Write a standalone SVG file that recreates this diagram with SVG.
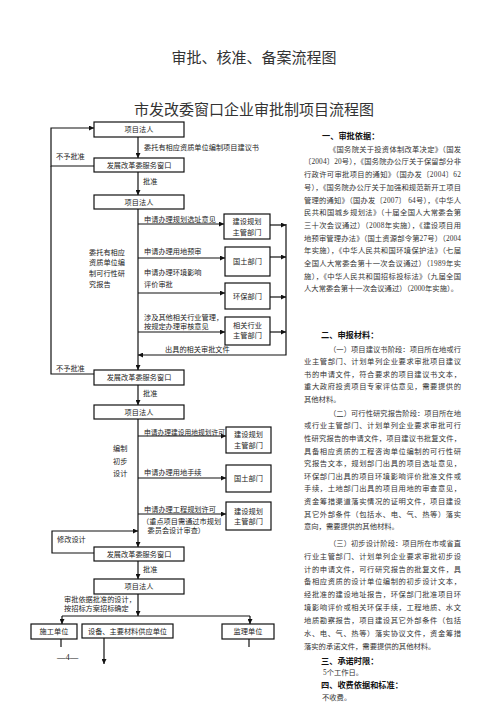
<svg xmlns="http://www.w3.org/2000/svg" width="496" height="702" viewBox="0 0 496 702">
<defs>
<marker id="ah" viewBox="0 0 10 10" refX="10" refY="5" markerWidth="6" markerHeight="5" orient="auto" markerUnits="userSpaceOnUse"><path d="M0,0 L10,5 L0,10 z" fill="#111"/></marker>
</defs>
<style>
.t{font-family:"Liberation Serif","Noto Sans CJK SC",serif;font-size:7.2px;fill:#222}
.c{text-anchor:middle}
.box{fill:#fff;stroke:#111;stroke-width:1.2}
.ln{fill:none;stroke:#111;stroke-width:1.2}
.ttl{font-family:"Liberation Serif","Noto Sans CJK SC",serif;font-size:15px;fill:#333;text-anchor:middle}
.b{font-family:"Liberation Serif","Noto Sans CJK SC",serif;font-size:7.3px;fill:#333}
.h{font-family:"Liberation Sans","Noto Sans CJK SC",sans-serif;font-size:8.2px;font-weight:bold;fill:#111}
</style>
<rect width="496" height="702" fill="#fff"/>
<text class="ttl" x="254" y="62.5">审批、核准、备案流程图</text>
<text class="ttl" x="254" y="114.5">市发改委窗口企业审批制项目流程图</text>

<g id="connectors">
<path class="ln" d="M138,137 V158" marker-end="url(#ah)"/>
<path class="ln" d="M94,166 H51 V128 H94" marker-end="url(#ah)"/>
<path class="ln" d="M94,374 H51 V166"/>
<path class="ln" d="M138,172 V195" marker-end="url(#ah)"/>
<path class="ln" d="M138,209 V370" marker-end="url(#ah)"/>
<path class="ln" d="M138,224 H224" marker-end="url(#ah)"/>
<path class="ln" d="M138,258 H225" marker-end="url(#ah)"/>
<path class="ln" d="M138,293 H225" marker-end="url(#ah)"/>
<path class="ln" d="M138,332 H225" marker-end="url(#ah)"/>
<path class="ln" d="M270,225 H286" marker-end="url(#ah)"/>
<path class="ln" d="M270,257 H286" marker-end="url(#ah)"/>
<path class="ln" d="M270,297 H286" marker-end="url(#ah)"/>
<path class="ln" d="M270,332 H286" marker-end="url(#ah)"/>
<path class="ln" d="M286,224 V355 H138" marker-end="url(#ah)"/>
<path class="ln" d="M138,385 V405" marker-end="url(#ah)"/>
<path class="ln" d="M138,419 V547" marker-end="url(#ah)"/>
<path class="ln" d="M138,436 H226" marker-end="url(#ah)"/>
<path class="ln" d="M138,478 H226" marker-end="url(#ah)"/>
<path class="ln" d="M138,514 H226" marker-end="url(#ah)"/>
<path class="ln" d="M94,553 H52 V531 H138" marker-end="url(#ah)"/>
<path class="ln" d="M138,561 V579" marker-end="url(#ah)"/>
<path class="ln" d="M138,594 V616" marker-end="url(#ah)"/>
<path class="ln" d="M62,616 H250"/>
<path class="ln" d="M62,616 V624" marker-end="url(#ah)"/>
<path class="ln" d="M250,616 V624" marker-end="url(#ah)"/>
<path class="ln" d="M61,639 V647"/>
<path class="ln" d="M249,639 V647"/>
<path class="ln" d="M104,638 V664" marker-end="url(#ah)"/>
</g>

<g id="labels">
<text class="t" x="144" y="149.7">委托有相应资质单位编制项目建议书</text>
<text class="t" x="56" y="159.4">不予批准</text>
<text class="t" x="143" y="184.4">批准</text>
<text class="t" x="144" y="221.7">申请办理规划选址意见</text>
<text class="t" x="144" y="253.7">申请办理用地预审</text>
<text class="t" x="144" y="275">申请办理环境影响</text>
<text class="t" x="144" y="287">评价审批</text>
<text class="t" x="144" y="320.4">涉及其他相关行业管理，</text>
<text class="t" x="144" y="329.4">按规定办理审核意见</text>
<text class="t" x="89" y="254.7">委托有相应</text>
<text class="t" x="89" y="265">资质单位编</text>
<text class="t" x="89" y="275.7">制可行性研</text>
<text class="t" x="89" y="287">究报告</text>
<text class="t" x="165" y="352.3">出具的相关审批文件</text>
<text class="t" x="56" y="370.7">不予批准</text>
<text class="t" x="143" y="395.7">批准</text>
<text class="t" x="144" y="434.7" textLength="81" lengthAdjust="spacingAndGlyphs">申请办理建设用地规划许可</text>
<text class="t" x="113" y="450.7">编制</text>
<text class="t" x="113" y="463.7">初步</text>
<text class="t" x="113" y="475.7">设计</text>
<text class="t" x="144" y="475.4">申请办理用地手续</text>
<text class="t" x="144" y="512">申请办理工程规划许可</text>
<text class="t" x="142" y="523.7">（重点项目需通过市规划</text>
<text class="t" x="147.5" y="532.7">委员会设计审查）</text>
<text class="t" x="57" y="542">修改设计</text>
<text class="t" x="143" y="571.7">批准</text>
<text class="t" x="64" y="601.7">审批依据批准的设计，</text>
<text class="t" x="64" y="610.7">按招标方案招标确定</text>
<text class="t" x="57" y="660" style="font-size:8.5px">—4—</text>
</g>

<g id="n1"><rect class="box" x="94" y="122" width="90" height="15"/><text class="t c" x="139" y="132.2">项目法人</text></g>
<g id="n2"><rect class="box" x="94" y="158" width="90" height="14"/><text class="t c" x="139" y="167.6">发展改革委服务窗口</text></g>
<g id="n3"><rect class="box" x="94" y="195" width="90" height="14"/><text class="t c" x="139" y="204.6">项目法人</text></g>
<g id="a1"><rect class="box" x="224" y="214" width="46" height="25"/><text class="t c" x="247" y="223.6">建设规划</text><text class="t c" x="247" y="235">主管部门</text></g>
<g id="a2"><rect class="box" x="225" y="247" width="45" height="29"/><text class="t c" x="247.5" y="264.2">国土部门</text></g>
<g id="a3"><rect class="box" x="225" y="283" width="45" height="26"/><text class="t c" x="247.5" y="298.7">环保部门</text></g>
<g id="a4"><rect class="box" x="225" y="317" width="45" height="28"/><text class="t c" x="247.5" y="327.7">相关行业</text><text class="t c" x="247.5" y="338.4">主管部门</text></g>
<g id="n4"><rect class="box" x="94" y="370" width="90" height="15"/><text class="t c" x="139" y="380.2">发展改革委服务窗口</text></g>
<g id="n5"><rect class="box" x="94" y="405" width="90" height="14"/><text class="t c" x="139" y="414.7">项目法人</text></g>
<g id="b1"><rect class="box" x="226" y="427" width="45" height="26"/><text class="t c" x="248.5" y="437">建设规划</text><text class="t c" x="248.5" y="448.4">主管部门</text></g>
<g id="b2"><rect class="box" x="226" y="465" width="45" height="27"/><text class="t c" x="248.5" y="481.2">国土部门</text></g>
<g id="b3"><rect class="box" x="226" y="502" width="45" height="28"/><text class="t c" x="248.5" y="513.7">建设规划</text><text class="t c" x="248.5" y="523.7">主管部门</text></g>
<g id="n6"><rect class="box" x="94" y="547" width="90" height="14"/><text class="t c" x="139" y="556.7">发展改革委服务窗口</text></g>
<g id="n7"><rect class="box" x="94" y="579" width="90" height="15"/><text class="t c" x="139" y="589.2">项目法人</text></g>
<g id="c1"><rect class="box" x="31" y="624" width="46" height="15"/><text class="t c" x="54" y="634.2">施工单位</text></g>
<g id="c2"><rect class="box" x="82" y="624" width="91" height="14"/><text class="t c" x="127.5" y="633.7">设备、主要材料供应单位</text></g>
<g id="c3"><rect class="box" x="222" y="624" width="52" height="15"/><text class="t c" x="248" y="634.2">监理单位</text></g>

<g id="notes">
<text class="h" x="322" y="139">一、审批依据：</text>
<text class="b" x="329" y="151.7" textLength="132" lengthAdjust="spacing">《国务院关于投资体制改革决定》（国发</text>
<text class="b" x="304" y="164.4" textLength="157" lengthAdjust="spacing">〔2004〕20号），《国务院办公厅关于保留部分非</text>
<text class="b" x="304" y="177.1" textLength="157" lengthAdjust="spacing">行政许可审批项目的通知》（国办发〔2004〕62</text>
<text class="b" x="304" y="189.8" textLength="157" lengthAdjust="spacing">号），《国务院办公厅关于加强和规范新开工项目</text>
<text class="b" x="304" y="202.5" textLength="157" lengthAdjust="spacing">管理的通知》（国办发〔2007〕 64号），《中华人</text>
<text class="b" x="304" y="215.2" textLength="157" lengthAdjust="spacing">民共和国城乡规划法》（十届全国人大常委会第</text>
<text class="b" x="304" y="227.9" textLength="157" lengthAdjust="spacing">三十次会议通过）（2008年实施），《建设项目用</text>
<text class="b" x="304" y="240.6" textLength="157" lengthAdjust="spacing">地预审管理办法》（国土资源部令第27号）（2004</text>
<text class="b" x="304" y="253.3" textLength="157" lengthAdjust="spacing">年实施），《中华人民共和国环境保护法》（七届</text>
<text class="b" x="304" y="266" textLength="157" lengthAdjust="spacing">全国人大常委会第十一次会议通过）（1989年实</text>
<text class="b" x="304" y="278.7" textLength="157" lengthAdjust="spacing">施），《中华人民共和国招标投标法》（九届全国</text>
<text class="b" x="304" y="291.4" textLength="154" lengthAdjust="spacing">人大常委会第十一次会议通过）（2000年实施）。</text>

<text class="h" x="321" y="338">二、申报材料：</text>
<text class="b" x="329" y="351.7" textLength="132" lengthAdjust="spacing">（一）项目建议书阶段：项目所在地或行</text>
<text class="b" x="304" y="364.2" textLength="157" lengthAdjust="spacing">业主管部门、计划单列企业要求审批项目建议</text>
<text class="b" x="304" y="376.7" textLength="157" lengthAdjust="spacing">书的申请文件，符合要求的项目建议书文本，</text>
<text class="b" x="304" y="389.2" textLength="157" lengthAdjust="spacing">重大政府投资项目专家评估意见，需要提供的</text>
<text class="b" x="304" y="401.7">其他材料。</text>
<text class="b" x="329" y="415.7" textLength="132" lengthAdjust="spacing">（二）可行性研究报告阶段：项目所在地</text>
<text class="b" x="304" y="428.3" textLength="157" lengthAdjust="spacing">或行业主管部门、计划单列企业要求审批可行</text>
<text class="b" x="304" y="440.9" textLength="157" lengthAdjust="spacing">性研究报告的申请文件，项目建议书批复文件，</text>
<text class="b" x="304" y="453.5" textLength="157" lengthAdjust="spacing">具备相应资质的工程咨询单位编制的可行性研</text>
<text class="b" x="304" y="466.1" textLength="157" lengthAdjust="spacing">究报告文本，规划部门出具的项目选址意见，</text>
<text class="b" x="304" y="478.7" textLength="157" lengthAdjust="spacing">环保部门出具的项目环境影响评价批准文件或</text>
<text class="b" x="304" y="491.3" textLength="157" lengthAdjust="spacing">手续，土地部门出具的项目用地的审查意见，</text>
<text class="b" x="304" y="503.9" textLength="157" lengthAdjust="spacing">资金筹措渠道落实情况的证明文件，项目建设</text>
<text class="b" x="304" y="516.5" textLength="157" lengthAdjust="spacing">其它外部条件（包括水、电、气、热等）落实</text>
<text class="b" x="304" y="529.1">意向，需要提供的其他材料。</text>
<text class="b" x="329" y="545.7" textLength="132" lengthAdjust="spacing">（三）初步设计阶段：项目所在市或省直</text>
<text class="b" x="304" y="558.6" textLength="157" lengthAdjust="spacing">行业主管部门、计划单列企业要求审批初步设</text>
<text class="b" x="304" y="571.5" textLength="157" lengthAdjust="spacing">计的申请文件，可行研究报告的批复文件，具</text>
<text class="b" x="304" y="584.4" textLength="157" lengthAdjust="spacing">备相应资质的设计单位编制的初步设计文本，</text>
<text class="b" x="304" y="597.3" textLength="157" lengthAdjust="spacing">经批准的建设地址报告，环保部门批准项目环</text>
<text class="b" x="304" y="610.2" textLength="157" lengthAdjust="spacing">境影响评价或相关环保手续，工程地质、水文</text>
<text class="b" x="304" y="623.1" textLength="157" lengthAdjust="spacing">地质勘察报告，项目建设其它外部条件（包括</text>
<text class="b" x="304" y="636" textLength="157" lengthAdjust="spacing">水、电、气、热等）落实协议文件，资金筹措</text>
<text class="b" x="304" y="648.9">落实的承诺文件，需要提供的其他材料。</text>
<text class="h" x="321" y="663.5">三、承诺时限：</text>
<text class="b" x="323" y="675.4">5个工作日。</text>
<text class="h" x="321" y="688">四、收费依据和标准：</text>
<text class="b" x="322" y="699.7">不收费。</text>
</g>
</svg>
